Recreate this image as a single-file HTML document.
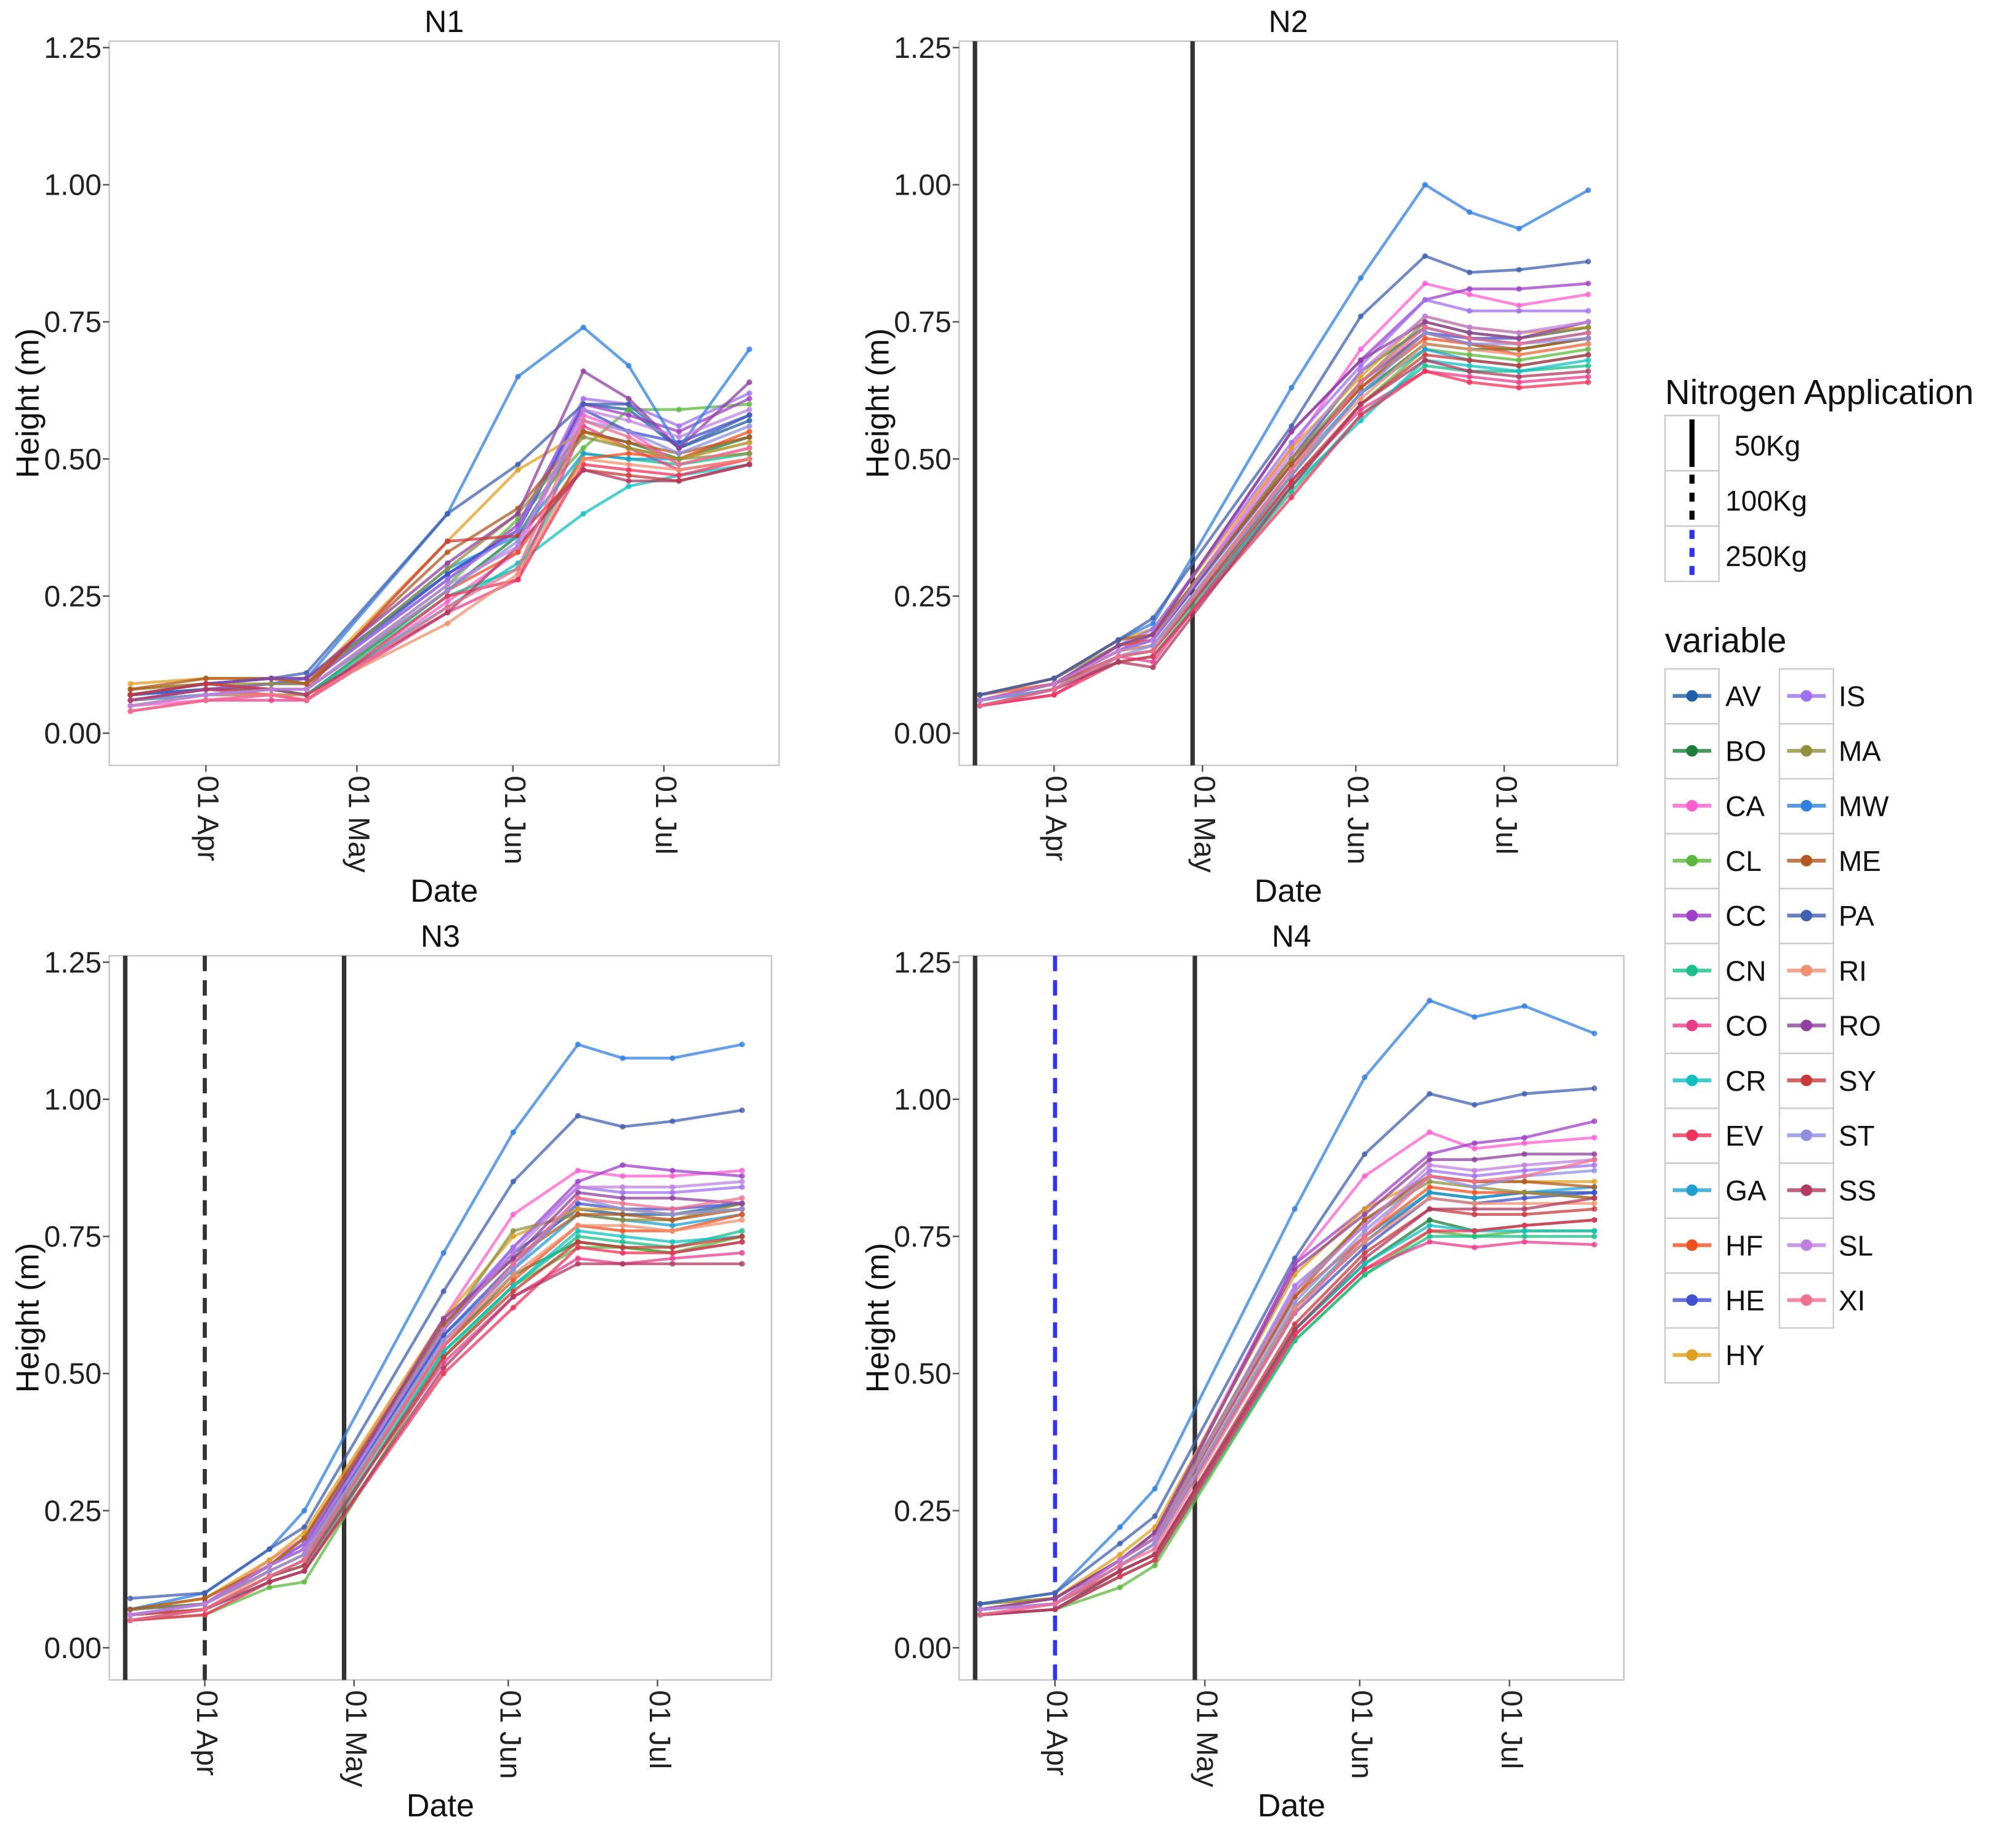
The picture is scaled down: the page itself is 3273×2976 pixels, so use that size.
<!DOCTYPE html>
<html><head><meta charset="utf-8"><style>
html,body{margin:0;padding:0;background:#fff;}
svg{display:block;font-family:"Liberation Sans",sans-serif;}
</style></head><body>
<svg id="chart" width="3273" height="2976" viewBox="0 0 1568 1425" preserveAspectRatio="none" xmlns="http://www.w3.org/2000/svg">
<rect x="0" y="0" width="1568" height="1425" fill="#fff"/>
</svg>
<script>
const seriesNames=["AV","BO","CA","CL","CC","CN","CO","CR","EV","GA","HF","HE","HY","IS","MA","MW","ME","PA","RI","RO","SY","ST","SS","SL","XI"];
const seriesColors=["#1f5fa8","#1e7d3a","#ff5fcf","#5cb83c","#a040c8","#1abf8a","#e83e8c","#10c0c0","#f0325a","#20a0d0","#f05020","#4050d0","#e0a020","#a070f0","#909040","#3080e0","#b05a20","#4060b0","#f09070","#9040a0","#c83a3a","#9090e0","#b03a60","#c080e0","#f07090"];
// measurement dates as day offsets from 01 Apr
const dateOffsets=[-15,0,13,20,48,62,75,84,94,108];
const xTickLabels=["01 Apr","01 May","01 Jun","01 Jul"];
const xTickOffsets=[0,30,61,91];
const yTickValues=[0,0.25,0.5,0.75,1,1.25];
const yTickLabels=["0.00","0.25","0.50","0.75","1.00","1.25"];
const panelTitles=["N1","N2","N3","N4"];
const n1Values=[
[.07,.08,.09,.09,.29,.37,.60,.59,.52,.57],[.06,.07,.07,.07,.26,.36,.55,.53,.50,.54],[.05,.06,.07,.06,.24,.33,.58,.55,.49,.52],[.07,.08,.08,.08,.27,.39,.52,.59,.59,.60],[.06,.08,.09,.09,.28,.38,.60,.58,.55,.61],[.06,.07,.08,.07,.25,.30,.51,.50,.49,.51],[.04,.06,.06,.06,.22,.28,.56,.52,.48,.50],[.05,.07,.08,.07,.23,.31,.40,.45,.47,.49],[.06,.08,.07,.06,.25,.28,.49,.48,.47,.50],[.07,.08,.09,.09,.30,.36,.51,.50,.50,.53],[.08,.09,.08,.08,.26,.33,.50,.51,.50,.55],[.07,.08,.09,.10,.29,.37,.59,.55,.53,.58],[.09,.10,.10,.09,.35,.48,.55,.52,.50,.53],[.06,.08,.09,.09,.28,.37,.61,.60,.56,.62],[.08,.09,.09,.09,.30,.40,.54,.52,.50,.51],[.07,.09,.10,.10,.40,.65,.74,.67,.52,.70],[.08,.10,.10,.09,.33,.41,.55,.53,.51,.54],[.07,.09,.10,.11,.40,.49,.60,.60,.52,.58],[.05,.07,.07,.07,.20,.29,.50,.49,.48,.50],[.07,.09,.10,.10,.31,.40,.66,.61,.52,.64],[.07,.09,.08,.08,.35,.36,.48,.47,.46,.49],[.06,.07,.08,.08,.26,.35,.57,.55,.51,.56],[.06,.08,.08,.07,.22,.34,.48,.46,.46,.49],[.05,.07,.08,.08,.27,.34,.59,.57,.54,.59],[.04,.06,.07,.06,.23,.30,.57,.54,.49,.52]];
const n2Values=[
[.06,.09,.15,.17,.50,.66,.74,.72,.71,.73],[.06,.08,.14,.15,.47,.62,.71,.70,.70,.72],[.05,.08,.16,.17,.52,.70,.82,.80,.78,.80],[.06,.09,.13,.14,.45,.60,.70,.69,.68,.70],[.06,.09,.15,.18,.55,.68,.79,.81,.81,.82],[.05,.08,.13,.14,.44,.58,.67,.66,.66,.67],[.05,.07,.14,.13,.46,.59,.66,.65,.64,.65],[.06,.08,.14,.15,.45,.57,.68,.67,.66,.68],[.05,.07,.13,.14,.43,.58,.66,.64,.63,.64],[.06,.09,.15,.16,.48,.62,.70,.68,.67,.69],[.07,.09,.16,.17,.50,.63,.72,.71,.69,.71],[.06,.09,.15,.17,.49,.64,.73,.72,.72,.74],[.07,.10,.17,.19,.52,.65,.76,.74,.73,.74],[.06,.09,.16,.19,.53,.67,.79,.77,.77,.77],[.07,.10,.16,.18,.50,.64,.75,.73,.72,.74],[.07,.10,.17,.20,.63,.83,1.00,.95,.92,.99],[.07,.10,.17,.18,.49,.63,.73,.71,.70,.72],[.07,.10,.17,.21,.56,.76,.87,.84,.845,.86],[.06,.09,.15,.16,.48,.61,.71,.70,.69,.71],[.06,.09,.16,.18,.55,.68,.75,.73,.72,.75],[.06,.09,.14,.15,.46,.60,.69,.68,.67,.69],[.06,.08,.14,.16,.47,.62,.73,.71,.71,.72],[.05,.08,.13,.12,.45,.60,.68,.66,.65,.66],[.06,.09,.15,.17,.51,.66,.76,.74,.73,.75],[.05,.08,.14,.15,.48,.64,.74,.72,.71,.73]];
const n3Values=[
[.07,.08,.15,.19,.58,.72,.80,.79,.79,.81],[.06,.07,.13,.16,.55,.68,.74,.73,.72,.74],[.06,.08,.16,.20,.60,.79,.87,.86,.86,.87],[.05,.06,.11,.12,.53,.66,.73,.73,.72,.75],[.06,.08,.15,.19,.58,.73,.85,.88,.87,.86],[.05,.07,.12,.14,.54,.66,.75,.74,.73,.76],[.05,.07,.13,.16,.52,.64,.71,.70,.71,.72],[.06,.07,.13,.15,.54,.66,.76,.75,.74,.75],[.05,.06,.12,.14,.50,.62,.73,.72,.72,.74],[.06,.08,.14,.17,.57,.69,.79,.78,.77,.79],[.06,.08,.14,.17,.55,.67,.77,.76,.76,.79],[.07,.08,.15,.18,.57,.70,.81,.80,.80,.81],[.07,.09,.16,.21,.60,.75,.80,.80,.79,.80],[.06,.08,.15,.19,.59,.73,.84,.83,.83,.84],[.07,.08,.15,.20,.58,.76,.79,.78,.78,.81],[.07,.10,.18,.25,.72,.94,1.10,1.075,1.075,1.10],[.07,.09,.15,.20,.59,.71,.79,.79,.78,.80],[.09,.10,.18,.22,.65,.85,.97,.95,.96,.98],[.06,.07,.14,.17,.56,.68,.77,.77,.76,.78],[.06,.08,.15,.18,.60,.71,.83,.82,.82,.81],[.06,.07,.13,.15,.53,.65,.74,.73,.73,.75],[.06,.08,.14,.17,.56,.69,.82,.80,.79,.80],[.05,.07,.12,.14,.51,.64,.70,.70,.70,.70],[.06,.08,.15,.18,.58,.72,.84,.84,.84,.85],[.05,.07,.13,.16,.55,.70,.82,.81,.80,.82]];
const n4Values=[
[.07,.08,.15,.19,.62,.74,.83,.82,.83,.83],[.06,.07,.13,.16,.58,.70,.78,.76,.77,.78],[.06,.08,.16,.21,.70,.86,.94,.91,.92,.93],[.06,.07,.11,.15,.56,.68,.76,.75,.76,.76],[.07,.08,.16,.20,.70,.80,.90,.92,.93,.96],[.06,.07,.13,.16,.56,.68,.75,.75,.75,.75],[.06,.07,.14,.17,.57,.69,.74,.73,.74,.735],[.06,.07,.14,.17,.58,.70,.77,.76,.76,.76],[.06,.07,.13,.16,.57,.69,.76,.76,.77,.78],[.07,.08,.15,.19,.62,.75,.83,.82,.83,.84],[.07,.08,.16,.20,.64,.75,.84,.83,.83,.82],[.07,.08,.15,.19,.61,.73,.82,.81,.82,.83],[.08,.09,.17,.22,.68,.80,.86,.85,.85,.85],[.07,.08,.16,.20,.66,.77,.87,.86,.87,.88],[.08,.09,.16,.21,.65,.78,.85,.84,.83,.82],[.08,.10,.22,.29,.80,1.04,1.18,1.15,1.17,1.12],[.07,.09,.16,.20,.64,.78,.86,.85,.85,.84],[.08,.10,.19,.24,.71,.90,1.01,.99,1.01,1.02],[.07,.08,.15,.19,.62,.74,.82,.81,.81,.81],[.07,.09,.16,.21,.69,.79,.89,.89,.90,.90],[.07,.08,.14,.17,.59,.72,.80,.79,.79,.80],[.07,.08,.15,.19,.63,.76,.86,.84,.86,.87],[.06,.07,.14,.17,.58,.71,.80,.80,.80,.82],[.07,.08,.16,.20,.65,.77,.88,.87,.88,.89],[.06,.08,.15,.18,.61,.75,.86,.85,.86,.89]];
const panelValues=[n1Values,n2Values,n3Values,n4Values];
// application events (day offsets) per panel: type 0=50Kg solid,1=100Kg dashed,2=250Kg blue dashed
const appDays=[[],[-16,28],[-16,0,28],[-16,0,28]];
const appTypes=[[],[0,0],[0,1,0],[0,2,0]];

const NS="http://www.w3.org/2000/svg";
const svg=document.getElementById('chart');
function mk(tag,attrs,parent){const e=document.createElementNS(NS,tag);for(const k in attrs)e.setAttribute(k,attrs[k]);(parent||svg).appendChild(e);return e;}
const boxes=[{x0:85,x1:606,zy:570},{x0:746,x1:1258,zy:570},{x0:85,x1:600,zy:1281},{x0:746,x1:1263,zy:1281}];
const D0=-19.2,D1=113.9,PXV=426.4;
boxes.forEach((b,pi)=>{
  const g=mk('g',{});
  
  
  const xs=d=>b.x0+(d-D0)*(b.x1-b.x0)/(D1-D0);
  const ys=v=>b.zy-v*PXV;
  const top=ys(1.25)-5,bot=b.zy+25;
  const fr=mk('rect',{x:b.x0,y:top,width:b.x1-b.x0,height:bot-top,fill:'#fff',stroke:'#c8c8c8','stroke-width':1.2},g);
  
  
  const t=mk('text',{x:(b.x0+b.x1)/2,y:top-7,'text-anchor':'middle','font-size':24,fill:'#111'},g);t.textContent=panelTitles[pi];
  
  
  yTickValues.forEach((v,i)=>{
    mk('line',{x1:b.x0-5,x2:b.x0,y1:ys(v),y2:ys(v),stroke:'#555','stroke-width':1.2},g);
    const tl=mk('text',{x:b.x0-6,y:ys(v)+8,'text-anchor':'end','font-size':23,fill:'#222'},g);tl.textContent=yTickLabels[i];
    
    
  });
  xTickOffsets.forEach((d,i)=>{
    const x=xs(d);
    mk('line',{x1:x,x2:x,y1:bot,y2:bot+5,stroke:'#555','stroke-width':1.2},g);
    const tl=mk('text',{x:x,y:bot+8,'font-size':23,fill:'#222','dominant-baseline':'middle',transform:`rotate(90 ${x} ${bot+8})`},g);tl.textContent=xTickLabels[i];
    
    
  });
  const xt=mk('text',{x:(b.x0+b.x1)/2,y:bot+106,'text-anchor':'middle','font-size':25,fill:'#111'},g);xt.textContent='Date';
  
  
  const cy=(top+bot)/2;
  const yt=mk('text',{x:b.x0-55,y:cy,'text-anchor':'middle','font-size':25,fill:'#111',transform:`rotate(-90 ${b.x0-55} ${cy})`},g);yt.textContent='Height (m)';
  
  
  appDays[pi].forEach((d,i)=>{
    const ty=appTypes[pi][i];const x=xs(d);
    const l=mk('line',{x1:x,x2:x,y1:top,y2:bot,stroke:ty==2?'#3333ff':'#333','stroke-width':ty==0?3.5:3.2,'stroke-dasharray':ty==0?'none':'12 7'},g);
    
    
  });
  panelValues[pi].forEach((vals,si)=>{
    const pts=vals.map((v,k)=>xs(dateOffsets[k]).toFixed(1)+','+ys(v).toFixed(1)).join(' ');
    const pl=mk('polyline',{points:pts,fill:'none',stroke:seriesColors[si],'stroke-width':2.2,'stroke-opacity':0.75},g);
    
    
    vals.forEach((v,k)=>{
      const c=mk('circle',{cx:xs(dateOffsets[k]),cy:ys(v),r:2.2,fill:seriesColors[si],'fill-opacity':0.8},g);
      
      
    });
  });
});
// legend
const lg=mk('g',{});


const nt=mk('text',{x:1295,y:314,'font-size':27,fill:'#111'},lg);nt.textContent='Nitrogen Application';


const appLabels=["50Kg","100Kg","250Kg"];
appLabels.forEach((lab,i)=>{
  const y0=323+i*43;
  mk('rect',{x:1295,y:y0,width:42,height:43,fill:'#fff',stroke:'#ccc','stroke-width':1.2},lg);
  mk('line',{x1:1316,x2:1316,y1:y0+3,y2:y0+40,stroke:i==2?'#3333ff':'#000','stroke-width':4,'stroke-dasharray':i==0?'none':'7 7'},lg);
  const tx=mk('text',{x:i==0?1349:1342,y:y0+31,'font-size':22,fill:'#111'},lg);tx.textContent=lab;
  
  
});
const vt=mk('text',{x:1295,y:507,'font-size':27,fill:'#111'},lg);vt.textContent='variable';


seriesNames.forEach((n,i)=>{
  const col=i<13?0:1,row=i<13?i:i-13;
  const bx=col==0?1295:1384,lx=col==0?1342:1430;
  const y0=520+row*42.7;
  mk('rect',{x:bx,y:y0,width:42,height:42.7,fill:'#fff',stroke:'#ccc','stroke-width':1.2},lg);
  mk('line',{x1:bx+6,x2:bx+36,y1:y0+21,y2:y0+21,stroke:seriesColors[i],'stroke-width':3,'stroke-opacity':0.8},lg);
  mk('circle',{cx:bx+21,cy:y0+21,r:4.5,fill:seriesColors[i]},lg);
  const tx=mk('text',{x:lx,y:y0+29,'font-size':22,fill:'#111'},lg);tx.textContent=n;
  
  
});
</script>
</body></html>
